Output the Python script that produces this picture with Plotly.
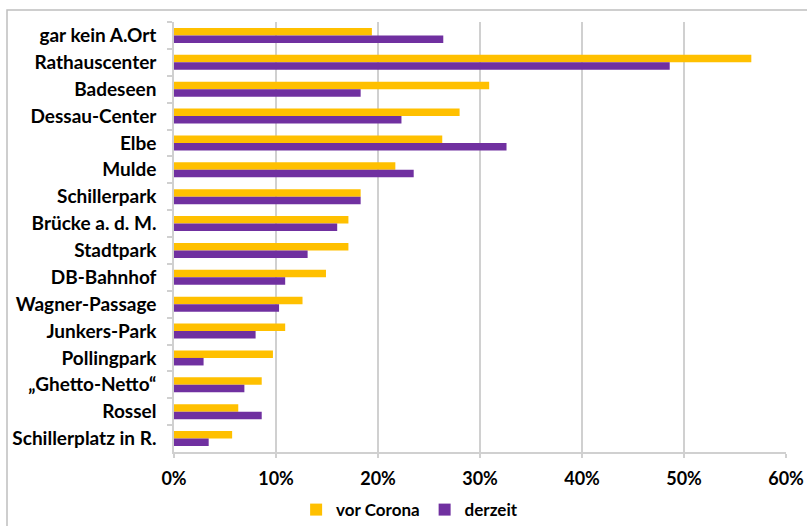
import plotly.graph_objects as go

categories = ["gar kein A.Ort", "Rathauscenter", "Badeseen", "Dessau-Center", "Elbe", "Mulde",
              "Schillerpark", "Brücke a. d. M.", "Stadtpark", "DB-Bahnhof", "Wagner-Passage",
              "Junkers-Park", "Pollingpark", "„Ghetto-Netto“", "Rossel", "Schillerplatz in R."]
vor_corona = [0.194, 0.566, 0.309, 0.280, 0.263, 0.217, 0.183, 0.171, 0.171, 0.149, 0.126,
              0.109, 0.097, 0.086, 0.063, 0.057]
derzeit = [0.264, 0.486, 0.183, 0.223, 0.326, 0.235, 0.183, 0.160, 0.131, 0.109, 0.103,
           0.080, 0.029, 0.069, 0.086, 0.034]
x_ticks = [0, 0.1, 0.2, 0.3, 0.4, 0.5, 0.6]
x_ticklabels = ["0%", "10%", "20%", "30%", "40%", "50%", "60%"]

FONT = "Lato"
GRID = "#D0D0D0"

fig = go.Figure()
fig.add_trace(go.Bar(y=categories, x=vor_corona, name="vor Corona", orientation="h",
                     marker=dict(color="#FFC000", line=dict(width=0))))
fig.add_trace(go.Bar(y=categories, x=derzeit, name="derzeit", orientation="h",
                     marker=dict(color="#7030A0", line=dict(width=0))))

fig.update_layout(
    width=807, height=526,
    margin=dict(l=174, r=21, t=22, b=74, autoexpand=False),
    paper_bgcolor="white", plot_bgcolor="white",
    barmode="group", bargap=0.44, bargroupgap=0,
    font=dict(family=FONT, size=16, color="#000000"),
    showlegend=True,
    legend=dict(orientation="h", x=0.385, xanchor="center", y=-0.135, yanchor="middle",
                font=dict(family=FONT, size=17, color="#000000", weight="bold"),
                itemwidth=30, traceorder="normal"),
    shapes=[dict(type="rect", xref="paper", yref="paper",
                 x0=(7 - 174) / 612, x1=1.2, y0=-0.3, y1=(452 - 10) / 430,
                 line=dict(color="#BFBFBF", width=1.5), fillcolor="rgba(0,0,0,0)", layer="below")],
)
fig.update_xaxes(range=[0, 0.6], tickvals=x_ticks, ticktext=x_ticklabels, automargin=False,
                 showgrid=True, gridcolor=GRID, gridwidth=1.5,
                 zeroline=False, showline=True, linecolor=GRID, linewidth=1.5,
                 ticks="outside", ticklen=4, tickcolor=GRID, tickwidth=1.5,
                 ticklabelstandoff=6,
                 tickfont=dict(family=FONT, size=18, color="#000000", weight="bold"))
fig.update_yaxes(categoryorder="array", categoryarray=categories, autorange="reversed",
                 automargin=False,
                 showline=True, linecolor=GRID, linewidth=1.5,
                 ticks="outside", tickson="boundaries", ticklen=5, tickcolor=GRID, tickwidth=1.5,
                 ticklabelstandoff=12,
                 tickfont=dict(family=FONT, size=19, color="#000000", weight="bold"))

fig.write_html("out.html", config={"displayModeBar": False},
               post_script="document.body.style.margin='0';document.body.style.overflow='hidden';")
